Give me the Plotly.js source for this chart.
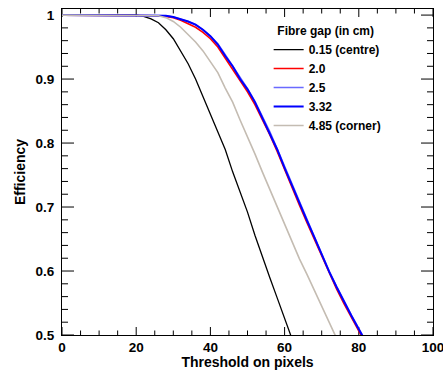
<!DOCTYPE html>
<html>
<head>
<meta charset="utf-8">
<script src="https://cdn.plot.ly/plotly-3.0.1.min.js"></script>
<style>html,body{margin:0;padding:0;background:#fff;}#plot{width:443px;height:370px;}</style>
</head>
<body>
<div id="plot"></div>
<script>
// Threshold on pixels
const threshold = [0,2,4,6,8,10,12,14,16,18,20,22,24,26,28,30,32,34,36,38,40,42,44,46,48,50,52,54,56,58,60,62,64,66,68,70,72,74,76,78,80,82];

// Efficiency per fibre gap
const gap015 = [1,1,1,1,1,1,1,1,1,1,1,0.998,0.994,0.988,0.977,0.963,0.944,0.924,0.900,0.873,0.845,0.818,0.790,0.755,0.723,0.692,0.656,0.622,0.590,0.558,0.526,0.494,null,null,null,null,null,null,null,null,null,null];
const gap20  = [1,1,1,1,1,1,1,1,1,1,1,1,1,0.999,0.998,0.996,0.992,0.987,0.981,0.973,0.963,0.950,0.933,0.916,0.897,0.880,0.860,0.837,0.813,0.787,0.758,0.730,0.703,0.676,0.650,0.623,0.596,0.572,0.549,0.527,0.506,0.485];
const gap25  = [1,1,1,1,1,1,1,1,1,1,1,1,1,1,0.999,0.997,0.994,0.990,0.985,0.977,0.967,0.955,0.938,0.921,0.902,0.885,0.865,0.842,0.818,0.791,0.763,0.735,0.707,0.680,0.654,0.627,0.600,0.576,0.553,0.531,0.510,0.489];
const gap332 = [1,1,1,1,1,1,1,1,1,1,1,1,1,1,0.999,0.997,0.994,0.990,0.985,0.977,0.967,0.954,0.936,0.920,0.900,0.884,0.864,0.840,0.816,0.790,0.761,0.733,0.706,0.679,0.653,0.626,0.599,0.575,0.552,0.530,0.509,0.488];
const gap485 = [1,1,1,1,1,1,1,1,1,1,1,1,1,0.999,0.996,0.990,0.981,0.970,0.958,0.944,0.928,0.910,0.886,0.864,0.836,0.810,0.783,0.755,0.728,0.700,0.672,0.645,0.619,0.595,0.570,0.545,0.520,0.495,null,null,null,null];

const seriesNames = ["0.15 (centre)", "2.0", "2.5", "3.32", "4.85 (corner)"];
const legendTitle = "\u00a0\u00a0Fibre gap (in cm)";

// Tick positions and labels
const xMajorTicks = [0,20,40,60,80,100];
const xMinorTicks = [5,10,15,25,30,35,45,50,55,65,70,75,85,90,95];
const yMajorTicks = [0.5,0.6,0.7,0.8,0.9,1.0];
const yMajorLabels = ["0.5","0.6","0.7","0.8","0.9","1"];
const yMinorTicks = [0.52,0.54,0.56,0.58,0.62,0.64,0.66,0.68,0.72,0.74,0.76,0.78,0.82,0.84,0.86,0.88,0.92,0.94,0.96,0.98];

const xRange = [0, 100];
const yRange = [0.5, 1.0095];

const F = "Liberation Sans, Arial, Helvetica, sans-serif";
const W = 443, H = 370, M = {l: 62, r: 10, t: 9, b: 35};
const plotW = W - M.l - M.r, plotH = H - M.t - M.b;

// Inside tick marks on all four sides, drawn as one line trace on the axes
const tickX = [], tickY = [];
function xTick(v, lenPx) {
  const d = lenPx / plotH * (yRange[1] - yRange[0]);
  tickX.push(v, v, null, v, v, null);
  tickY.push(yRange[0], yRange[0] + d, null, yRange[1], yRange[1] - d, null);
}
function yTick(v, lenPx) {
  const d = lenPx / plotW * (xRange[1] - xRange[0]);
  tickX.push(xRange[0], xRange[0] + d, null, xRange[1], xRange[1] - d, null);
  tickY.push(v, v, null, v, v, null);
}
xMajorTicks.forEach(v => xTick(v, 8));
xMinorTicks.forEach(v => xTick(v, 4.5));
yMajorTicks.forEach(v => yTick(v, 12));
yMinorTicks.forEach(v => yTick(v, 6));

const traces = [
  {x: tickX, y: tickY, mode: "lines", line: {color: "#000", width: 1}, showlegend: false, hoverinfo: "skip", connectgaps: false},
  {x: threshold, y: gap015, name: seriesNames[0], mode: "lines", line: {color: "#000000", width: 1.3}},
  {x: threshold, y: gap20,  name: seriesNames[1], mode: "lines", line: {color: "#ff0000", width: 1.6}},
  {x: threshold, y: gap25,  name: seriesNames[2], mode: "lines", line: {color: "#6a6aff", width: 1.6}},
  {x: threshold, y: gap332, name: seriesNames[3], mode: "lines", line: {color: "#0000ff", width: 2}},
  {x: threshold, y: gap485, name: seriesNames[4], mode: "lines", line: {color: "#c4bcb2", width: 1.6}}
];

const layout = {
  width: W, height: H,
  margin: M,
  paper_bgcolor: "#fff", plot_bgcolor: "#fff",
  font: {family: F, size: 13, color: "#000", weight: 700},
  showlegend: true,
  legend: {
    x: 0.557, y: 0.968, xanchor: "left", yanchor: "top",
    bgcolor: "rgba(0,0,0,0)", borderwidth: 0,
    font: {family: F, size: 12, weight: 700},
    title: {text: legendTitle, font: {family: F, size: 12, weight: 700}},
    traceorder: "normal"
  },
  xaxis: {
    range: xRange, tickvals: xMajorTicks,
    ticks: "", showline: true, linecolor: "#000", linewidth: 1, mirror: true,
    showgrid: false, zeroline: false, ticklabeloverflow: "allow",
    tickfont: {family: F, size: 13.5, weight: 700},
    title: {text: "Threshold on pixels", font: {family: F, size: 14, weight: 700}, standoff: 3}
  },
  yaxis: {
    range: yRange, tickvals: yMajorTicks, ticktext: yMajorLabels,
    ticks: "", showline: true, linecolor: "#000", linewidth: 1, mirror: true,
    showgrid: false, zeroline: false, ticklabelstandoff: 4,
    tickfont: {family: F, size: 13.5, weight: 700},
    title: {text: "Efficiency", font: {family: F, size: 14, weight: 700}, standoff: 6}
  }
};

Plotly.newPlot("plot", traces, layout, {displayModeBar: false});
</script>
</body>
</html>
